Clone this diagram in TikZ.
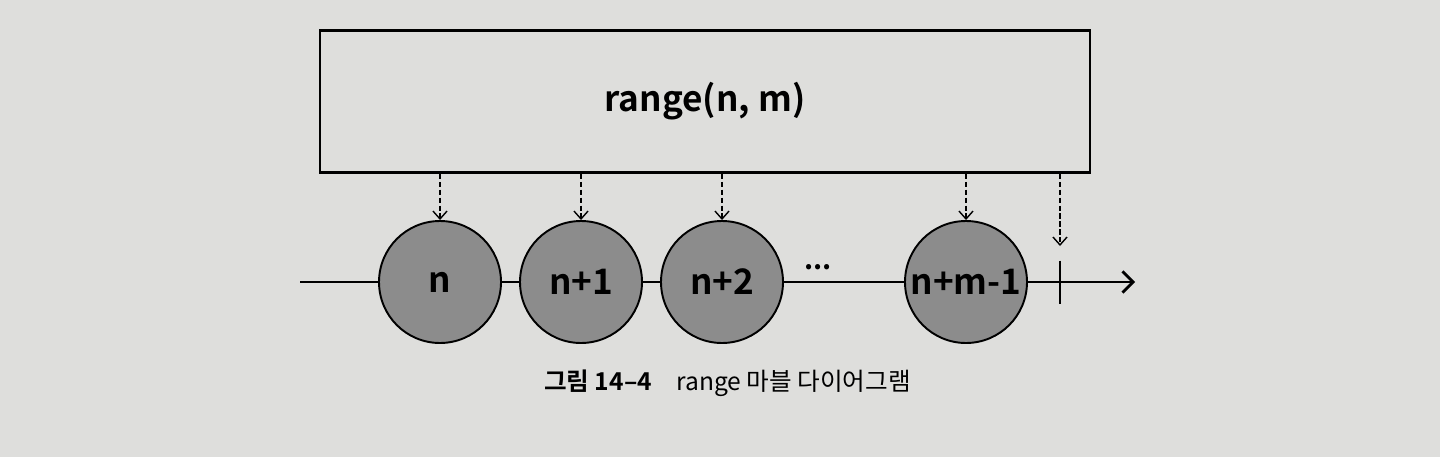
\documentclass[tikz,border=0pt]{standalone}
\usepackage{fontspec}
\setmainfont{Noto Sans CJK KR}[BoldFont={Noto Sans CJK KR Bold}]
\usetikzlibrary{arrows.meta}
\usetikzlibrary{positioning}
\definecolor{paper}{RGB}{222,222,220}
\definecolor{marble}{RGB}{140,140,140}
\tikzset{
	every path/.style={thick},
	align=center,
	operator/.style={
		draw,
		rectangle,
		line width=1.6pt,
		minimum width=15.4cm,
		minimum height=2.84cm,
		font=\fontsize{20}{24}\selectfont\bfseries,
	},
	marble/.style={
		draw,
		circle,
		fill=marble,
		line width=1.1pt,
		minimum size=2.44cm,
		inner sep=0pt,
		font=\fontsize{20}{24}\selectfont\bfseries,
	},
	emit/.style={
		dashed,
		line width=0.8pt,
		dash pattern=on 3pt off 1.5pt,
		-{Straight Barb[length=4.5pt,width=8pt]}
	},
	timeline/.style={
		line width=1.6pt,
		-{Straight Barb[length=6pt,width=12pt]}
	},
}

\begin{document}
\begin{tikzpicture}
		\fill[paper] (0,0) rectangle (28.8,9.14);
		\useasboundingbox (0,0) rectangle (28.8,9.14);

		\node[operator] (R) at (14.1,7.11) {range(n, m)};

		% timeline
		\coordinate (T0) at (6.0,3.5);
		\coordinate (T1) at (22.7,3.5);
		\coordinate (Ctop) at (21.2,3.93);
		\coordinate (Cbot) at (21.2,3.07);
		\draw[timeline] (T0) -- (T1);
		\draw[line width=1.6pt] (Ctop) -- (Cbot);

		\node[marble] (M1) at (8.8,3.5) {n};
		\node[marble] (M2) at (11.62,3.5) {n+1};
		\node[marble] (M3) at (14.44,3.5) {n+2};
		\node[marble] (M4) at (19.32,3.5) {n+m-1};

		\node[font=\fontsize{16}{18}\selectfont\bfseries] (dots) at (16.36,3.8) {...};

		% emissions
		\draw[emit] (R.south -| M1) -- (M1.north);
		\draw[emit] (R.south -| M2) -- (M2.north);
		\draw[emit] (R.south -| M3) -- (M3.north);
		\draw[emit] (R.south -| M4) -- (M4.north);
		\coordinate (Cin) at (21.2,4.22);
		\draw[emit] (R.south -| Cin) -- (Cin);

		\node[font=\fontsize{14}{17}\selectfont] (cap) at (14.55,1.48) {\textbf{그림 14–4}\quad range 마블 다이어그램};

	\end{tikzpicture}
\end{document}
